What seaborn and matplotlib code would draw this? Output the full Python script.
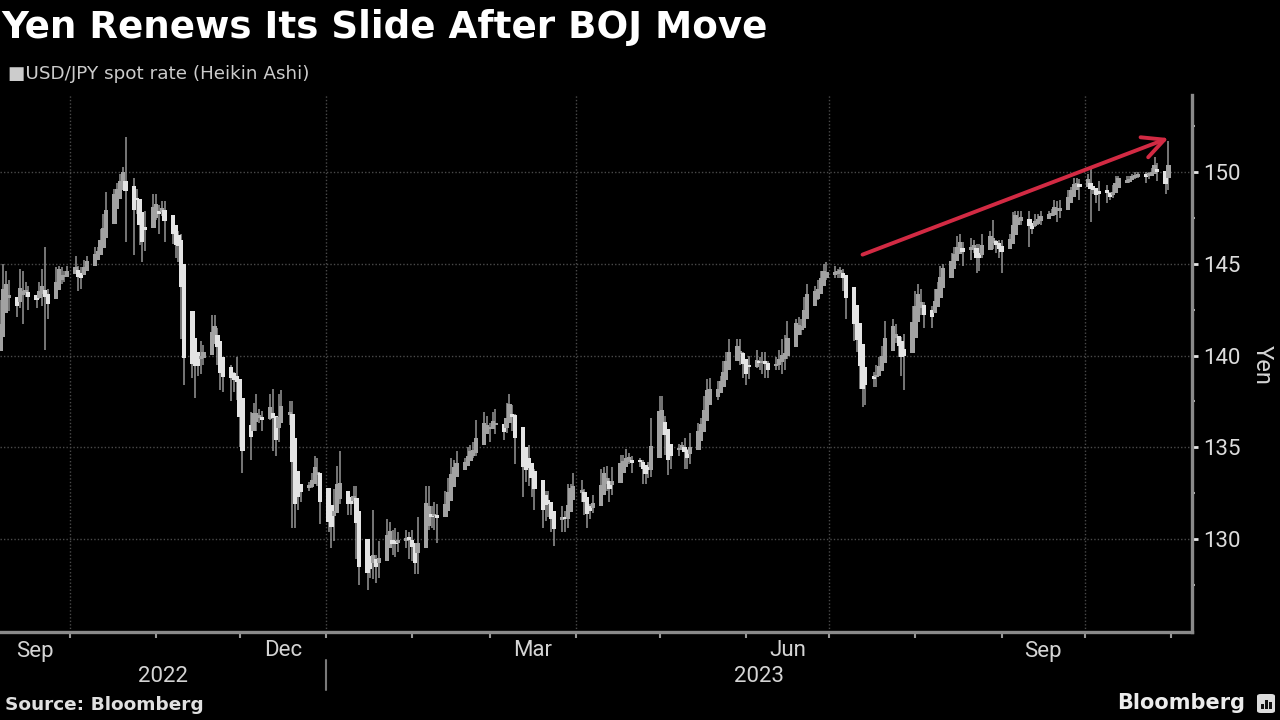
import numpy as np
import pandas as pd
import matplotlib
matplotlib.use("Agg")
import matplotlib.pyplot as plt
import matplotlib.dates as mdates
import matplotlib.transforms as mtransforms
from matplotlib.lines import Line2D
from matplotlib.patches import FancyBboxPatch, Rectangle
import seaborn as sns

# ---------------- data (USD/JPY daily, weekdays from 2022-09-01) ----------------
first_day = "2022-09-01"

close = [
    140.2, 140.2, 140.5, 142.8, 144.0, 144.1, 142.6, 142.8, 144.6, 143.2, 143.5, 142.9, 143.2, 143.7, 144.1, 142.4, 143.3, 144.7, 144.8, 144.1, 144.5, 144.7,  # Sep 22
    144.8, 144.0, 144.6, 145.1, 145.3, 145.7, 145.8, 146.8, 147.2, 148.7, 149.0, 149.2, 149.9, 150.1, 147.6, 149.0, 148.0, 146.4, 146.3, 147.5, 148.7,  # Oct 22
    148.2, 147.9, 148.2, 146.6, 146.6, 145.6, 146.4, 141.0, 138.8, 139.9, 139.3, 139.5, 140.2, 140.4, 142.1, 141.2, 139.6, 138.6, 139.2, 138.9, 138.7, 138.1,  # Nov 22
    135.3, 134.3, 136.8, 137.0, 136.6, 136.5, 136.6, 137.7, 135.6, 135.5, 137.8, 136.6, 136.9, 131.7, 132.5, 132.4, 132.9, 132.9, 133.5, 134.4, 133.0, 131.1,  # Dec 22
    130.8, 131.0, 132.5, 133.4, 132.1, 131.9, 132.2, 132.4, 129.2, 127.9, 128.5, 128.1, 128.9, 128.4, 129.6, 130.7, 130.2, 129.2, 130.2, 129.9, 130.4, 130.1,  # Jan 23
    128.9, 128.7, 131.2, 132.6, 131.1, 131.4, 131.4, 131.4, 132.4, 133.1, 134.1, 133.9, 134.2, 134.2, 134.9, 134.9, 134.7, 136.4, 136.2, 136.2,  # Feb 23
    136.1, 136.7, 135.8, 135.9, 137.2, 137.3, 136.1, 135.0, 133.2, 134.2, 133.3, 133.8, 131.8, 131.3, 132.5, 131.4, 130.9, 130.7, 131.5, 130.9, 132.9, 132.7, 132.9,  # Mar 23
    132.4, 131.6, 131.3, 131.8, 132.2, 133.6, 133.7, 133.1, 132.6, 133.8, 134.5, 134.1, 134.7, 134.3, 134.1, 134.3, 133.7, 133.6, 133.9, 136.3,  # Apr 23
    137.5, 136.6, 134.7, 134.3, 134.8, 135.1, 135.2, 134.4, 134.5, 135.7, 136.1, 136.4, 137.7, 138.6, 137.9, 138.6, 138.6, 139.5, 140.0, 140.6, 140.4, 139.8, 139.3,  # May 23
    138.8, 139.9, 139.6, 139.6, 140.1, 139.0, 139.4, 139.6, 140.2, 140.0, 140.3, 141.8, 141.9, 141.5, 141.9, 143.1, 143.7, 143.5, 144.0, 144.4, 144.8, 144.3,  # Jun 23
    144.7, 144.5, 144.7, 144.1, 142.2, 141.3, 140.4, 138.5, 138.1, 138.8, 138.7, 139.3, 139.7, 140.1, 141.8, 141.5, 140.9, 140.3, 139.4, 141.2, 142.3,  # Jul 23
    143.3, 143.3, 142.6, 141.8, 142.5, 143.4, 143.8, 144.8, 144.9, 145.6, 145.6, 146.4, 146.1, 145.4, 146.2, 145.9, 144.8, 145.8, 146.4, 146.5, 145.9, 146.2, 145.5,  # Aug 23
    146.2, 146.5, 147.7, 147.7, 147.3, 147.8, 146.6, 147.1, 147.5, 147.5, 147.9, 147.6, 147.9, 148.3, 147.6, 148.4, 148.9, 149.1, 149.6, 149.3, 149.4,  # Sep 23
    149.9, 149.0, 149.1, 148.5, 149.3, 148.5, 148.7, 149.1, 149.8, 149.6, 149.5, 149.8, 149.8, 149.9, 149.9, 149.7, 149.9, 150.2, 150.4, 149.6, 149.1, 151.7,  # Oct 23
]

high = [
    140.3, 140.8, 140.9, 143.0, 145.0, 144.6, 144.0, 143.2, 144.7, 144.6, 144.0, 143.8, 143.3, 144.0, 144.7, 145.9, 143.6, 144.8, 144.9, 144.8, 144.6, 144.9,
    145.4, 144.9, 144.8, 145.2, 145.4, 145.9, 145.9, 146.9, 147.7, 148.9, 149.1, 149.4, 149.9, 150.3, 151.9, 149.7, 149.1, 148.1, 146.9, 147.9, 148.8,
    148.8, 148.2, 148.4, 148.4, 147.2, 146.6, 146.8, 146.6, 141.3, 140.6, 140.8, 140.0, 140.8, 140.6, 142.2, 142.2, 141.5, 139.8, 139.5, 139.5, 139.1, 139.9,
    138.2, 135.9, 136.9, 137.4, 137.9, 137.1, 137.0, 137.9, 138.2, 135.9, 137.9, 138.1, 137.5, 137.5, 132.8, 132.7, 132.9, 133.1, 133.6, 134.5, 134.4, 133.1,
    131.3, 131.4, 132.7, 134.0, 134.8, 132.3, 132.3, 132.9, 132.9, 129.3, 128.9, 128.9, 131.6, 129.1, 129.9, 131.1, 130.9, 130.5, 130.6, 130.4, 130.5, 130.4,
    130.5, 129.0, 131.2, 132.9, 132.9, 131.8, 132.0, 131.9, 132.6, 133.3, 134.4, 134.3, 134.8, 134.4, 135.0, 135.1, 135.3, 136.5, 136.9, 136.7,
    136.3, 136.9, 137.1, 136.2, 137.4, 137.9, 137.3, 136.8, 135.1, 134.6, 135.1, 133.8, 133.8, 132.6, 132.6, 132.6, 131.6, 131.0, 131.8, 131.5, 133.0, 133.0, 133.6,
    133.2, 132.7, 131.9, 131.9, 132.4, 133.8, 133.9, 134.0, 133.3, 133.9, 134.6, 134.6, 134.9, 134.7, 134.5, 134.4, 134.1, 133.8, 134.2, 136.6,
    137.8, 137.8, 136.7, 134.8, 135.1, 135.2, 135.3, 135.5, 134.9, 135.8, 136.3, 136.6, 137.8, 138.7, 138.8, 138.6, 138.9, 139.7, 140.2, 140.9, 140.9, 140.9, 140.2,
    139.4, 140.0, 140.3, 139.9, 140.2, 140.2, 139.7, 139.9, 140.3, 140.9, 141.1, 141.9, 142.0, 142.1, 142.0, 143.2, 143.9, 143.8, 144.1, 144.6, 145.0, 145.1,
    144.9, 144.7, 144.8, 144.7, 144.2, 142.5, 141.5, 140.6, 138.9, 139.4, 139.1, 139.5, 139.9, 140.5, 141.9, 142.0, 141.7, 141.0, 141.0, 141.2, 142.7,
    143.5, 143.9, 143.6, 142.9, 142.7, 143.6, 144.0, 144.9, 145.0, 145.6, 145.9, 146.5, 146.6, 146.2, 146.4, 146.3, 146.1, 146.1, 146.6, 146.8, 147.4, 146.3, 146.3,
    146.3, 146.6, 147.8, 147.9, 147.9, 147.9, 147.9, 147.2, 147.7, 147.7, 147.9, 147.9, 148.0, 148.5, 148.4, 148.5, 149.0, 149.2, 149.7, 149.7, 149.6,
    149.9, 150.2, 149.2, 149.1, 149.5, 149.3, 148.9, 149.3, 149.8, 149.8, 149.8, 149.8, 149.9, 150.0, 150.0, 150.0, 150.0, 150.2, 150.8, 150.5, 149.8, 151.7,
]

low = [
    138.7, 139.8, 140.0, 140.5, 142.8, 143.0, 142.4, 142.1, 142.6, 141.7, 143.2, 142.5, 142.6, 143.1, 142.7, 140.3, 142.0, 143.3, 144.4, 143.9, 144.0, 144.4,
    144.5, 143.5, 143.6, 144.4, 144.9, 145.2, 145.4, 145.7, 146.2, 147.0, 148.5, 148.8, 149.0, 149.7, 146.2, 145.5, 147.7, 146.0, 145.1, 145.7, 147.3,
    147.4, 146.6, 147.6, 146.2, 146.1, 145.3, 145.1, 140.9, 138.4, 138.8, 137.7, 138.9, 139.0, 139.5, 140.4, 140.9, 139.5, 138.1, 138.0, 137.5, 138.0, 137.6,
    135.0, 133.6, 134.3, 136.2, 135.9, 136.3, 135.9, 136.5, 134.8, 134.5, 135.3, 136.4, 136.2, 130.6, 130.6, 131.6, 132.0, 132.6, 132.8, 133.4, 132.9, 130.8,
    130.4, 129.5, 129.9, 132.1, 131.9, 131.3, 131.3, 131.9, 128.9, 127.5, 127.2, 127.9, 127.8, 127.6, 127.9, 129.4, 129.9, 129.1, 129.0, 129.3, 129.5, 128.9,
    128.8, 128.1, 128.1, 131.1, 130.5, 130.6, 130.5, 129.8, 131.2, 131.5, 132.6, 133.5, 133.6, 134.0, 134.1, 134.3, 134.4, 134.5, 135.8, 135.8,
    135.3, 136.0, 135.7, 135.4, 135.8, 137.0, 135.9, 134.1, 132.3, 133.1, 132.9, 132.3, 131.6, 130.6, 131.0, 131.2, 130.4, 129.6, 130.4, 130.4, 130.6, 132.5, 132.4,
    132.0, 131.3, 130.6, 131.1, 131.4, 132.2, 133.2, 132.6, 132.0, 132.4, 133.6, 133.9, 134.0, 134.1, 133.6, 133.9, 133.0, 133.0, 133.3, 133.4,
    136.3, 136.2, 134.6, 133.5, 133.8, 134.5, 134.9, 133.8, 133.8, 134.1, 135.5, 136.0, 136.3, 137.5, 137.5, 137.6, 138.3, 138.5, 139.2, 139.2, 140.2, 139.5, 138.8,
    138.4, 138.7, 139.3, 139.2, 139.0, 138.8, 138.8, 139.2, 139.2, 139.0, 139.2, 139.8, 141.3, 141.1, 141.1, 141.7, 142.8, 143.1, 143.0, 143.9, 144.3, 144.1,
    144.2, 144.2, 144.2, 143.5, 142.0, 140.8, 140.2, 138.2, 137.2, 137.3, 138.3, 138.3, 138.9, 139.6, 140.1, 141.1, 140.7, 139.9, 138.9, 138.1, 141.0,
    141.7, 142.9, 142.2, 141.5, 141.5, 142.3, 143.2, 143.7, 144.3, 144.6, 145.1, 145.2, 145.6, 144.9, 145.2, 145.6, 144.5, 144.6, 145.3, 146.3, 145.8, 145.6, 145.3,
    144.5, 146.0, 146.5, 147.3, 147.1, 147.1, 145.9, 146.6, 147.0, 147.1, 147.1, 147.5, 147.6, 147.6, 147.3, 147.5, 148.3, 148.8, 149.0, 149.1, 148.5,
    149.3, 147.3, 148.8, 148.3, 147.9, 148.3, 148.5, 148.6, 148.9, 149.4, 149.4, 149.4, 149.6, 149.6, 149.7, 149.4, 149.6, 149.8, 150.2, 149.5, 148.8, 149.0,
]

y_ticks = [130, 135, 140, 145, 150]
month_labels = ["Sep", "Dec", "Mar", "Jun", "Sep"]
month_label_starts = ["2022-09-01", "2022-12-01", "2023-03-01", "2023-06-01", "2023-09-01"]
year_labels = ["2022", "2023"]
quarter_lines = ["2022-10-01", "2023-01-01", "2023-04-01", "2023-07-01", "2023-10-01"]
arrow_dates = ["2023-07-13", "2023-10-31"]
arrow_values = [145.5, 151.85]

title = "Yen Renews Its Slide After BOJ Move"
legend_text = "\u25A0USD/JPY spot rate (Heikin Ashi)"
source_text = "Source: Bloomberg"

# ---------------- Heikin Ashi ----------------
n = min(len(close), len(high), len(low))
dates = pd.bdate_range(first_day, periods=n)
c = np.array(close[:n], float)
h = np.array(high[:n], float)
l = np.array(low[:n], float)
o = np.r_[c[0], c[:-1]]
h = np.maximum.reduce([h, o, c])
l = np.minimum.reduce([l, o, c])
ha_c = (o + h + l + c) / 4.0
ha_o = np.empty(n)
ha_o[0] = (o[0] + c[0]) / 2.0
for i in range(1, n):
    ha_o[i] = (ha_o[i - 1] + ha_c[i - 1]) / 2.0
ha_h = np.maximum.reduce([h, ha_o, ha_c])
ha_l = np.minimum.reduce([l, ha_o, ha_c])

# ---------------- style ----------------
sns.set_theme(style="dark", rc={"axes.facecolor": "black", "figure.facecolor": "black"})
plt.rcParams["font.family"] = ["Roboto", "DejaVu Sans"]

W, H = 1280, 720
fig = plt.figure(figsize=(12.8, 7.2), dpi=100, facecolor="black")
ax = fig.add_axes([0, 1 - 632 / H, 1192 / W, (632 - 95) / H])
ax.set_facecolor("black")

x = mdates.date2num(dates)
up = ha_c >= ha_o
body_lo = np.minimum(ha_o, ha_c)
body_h = np.maximum(np.abs(ha_c - ha_o), 0.15)
body_col = np.where(up, "#a2a2a2", "#e4e4e4")

ax.vlines(x, ha_l, ha_h, colors="#979797", lw=1.1, zorder=3)
ax.bar(x, body_h, bottom=body_lo, width=1.55, color=body_col, edgecolor="none", zorder=4)

# limits
x_left = mdates.date2num(pd.Timestamp("2022-10-01")) - 70 / 2.7808
x_right = mdates.date2num(pd.Timestamp("2023-10-01")) + (1192 - 1085) / 2.7808
ax.set_xlim(x_left, x_right)
ax.set_ylim(124.93, 154.2)

# grid
for yv in y_ticks:
    ax.axhline(yv, color="#4a4a4a", lw=1.0, ls=(0, (1, 1.5)), zorder=1)
for qd in quarter_lines:
    ax.axvline(mdates.date2num(pd.Timestamp(qd)), color="#4a4a4a", lw=1.0, ls=(0, (1, 1.5)), zorder=1)
ax.grid(False)

# spines
for s in ["left", "top"]:
    ax.spines[s].set_visible(False)
for s in ["right", "bottom"]:
    ax.spines[s].set_visible(True)
    ax.spines[s].set_color("#8a8a8a")
    ax.spines[s].set_linewidth(2.4)

# y axis on right
ax.yaxis.tick_right()
ax.set_yticks(y_ticks)
ax.set_yticklabels([str(v) for v in y_ticks])
ax.set_yticks([127.5, 132.5, 137.5, 142.5, 147.5, 152.5], minor=True)
ax.tick_params(axis="y", which="major", right=True, left=False, direction="out", length=4,
               width=2, color="#e6e6e6", labelcolor="#dcdcdc", labelsize=16, pad=4)
ax.tick_params(axis="y", which="minor", right=True, left=False, direction="out", length=2.5,
               width=1.5, color="#b0b0b0")

# x axis: month ticks, no labels
ax.xaxis.set_major_locator(mdates.MonthLocator())
ax.xaxis.set_major_formatter(plt.NullFormatter())
ax.tick_params(axis="x", which="major", bottom=True, direction="out", length=4, width=1.5, color="#9a9a9a")

blend = mtransforms.blended_transform_factory(ax.transData, fig.transFigure)
for lab, ms in zip(month_labels, month_label_starts):
    m0 = pd.Timestamp(ms)
    m1 = m0 + pd.offsets.MonthBegin(1)
    a = max(mdates.date2num(m0), x_left)
    b = min(mdates.date2num(m1), x_right)
    ax.text((a + b) / 2, 1 - 651 / H, lab, transform=blend, ha="center", va="center",
            color="#d4d4d4", fontsize=16)

jan1 = mdates.date2num(pd.Timestamp("2023-01-01"))
year_bounds = [(x_left, jan1), (jan1, x_right)]
for lab, (a, b) in zip(year_labels, year_bounds):
    ax.text((a + b) / 2, 1 - 677 / H, lab, transform=blend, ha="center", va="center",
            color="#d4d4d4", fontsize=16)
fig.add_artist(Line2D([jan1, jan1], [1 - 660 / H, 1 - 690 / H], transform=blend,
                      color="#7a7a7a", lw=1.5))

# arrow
ax.annotate("", xy=(mdates.date2num(pd.Timestamp(arrow_dates[1])), arrow_values[1]),
            xytext=(mdates.date2num(pd.Timestamp(arrow_dates[0])), arrow_values[0]),
            arrowprops=dict(arrowstyle="->,head_length=0.7,head_width=0.35", color="#d22a43",
                            lw=2.8, mutation_scale=22, shrinkA=0, shrinkB=0), zorder=6)

# texts
fig.text(1 / W, 1 - 27 / H, title, fontsize=26.8, fontweight="bold", color="white",
         ha="left", va="center", family=["DejaVu Sans"])
fig.text(8 / W, 1 - 74 / H, legend_text, fontsize=13.2, color="#cccccc",
         ha="left", va="center", family=["DejaVu Sans"])
fig.text(1262 / W, 1 - 365 / H, "Yen", rotation=270, fontsize=17, color="#d4d4d4",
         ha="center", va="center")
fig.text(5 / W, 1 - 705 / H, source_text, fontsize=13.3, fontweight="bold", color="#e0e0e0",
         ha="left", va="center", family=["DejaVu Sans"])
fig.text(1245 / W, 1 - 703 / H, "Bloomberg", fontsize=15, fontweight="bold", color="#ececec",
         ha="right", va="center", family=["DejaVu Sans"])

# small logo box
fig.add_artist(FancyBboxPatch((1257 / W, 1 - 713 / H), 18 / W, 19 / H,
                              boxstyle="round,pad=0,rounding_size=0.003",
                              transform=fig.transFigure, facecolor="#dcdcdc", edgecolor="none"))
for bx, bh in zip([1261, 1265, 1269], [5, 9, 7]):
    fig.add_artist(Rectangle((bx / W, 1 - 709 / H), 2.5 / W, bh / H,
                             transform=fig.transFigure, facecolor="#111111", edgecolor="none"))

fig.savefig("out.png", dpi=100, facecolor="black")
